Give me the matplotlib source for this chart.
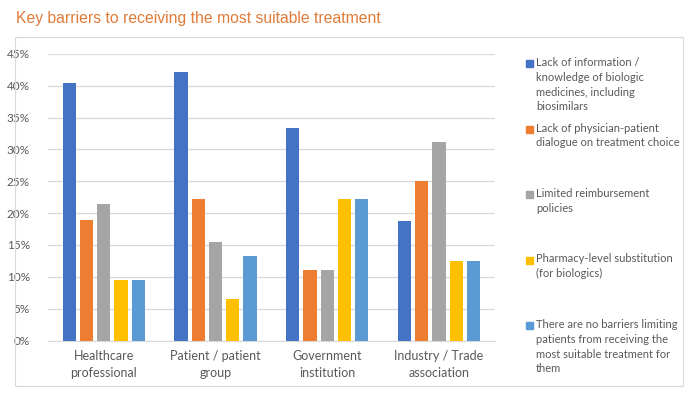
import numpy as np
import matplotlib.pyplot as plt
from matplotlib.patches import Rectangle

categories = ['Healthcare\nprofessional', 'Patient / patient\ngroup',
              'Government\ninstitution', 'Industry / Trade\nassociation']
series = ['Lack of information /\nknowledge of biologic\nmedicines, including\nbiosimilars',
          'Lack of physician-patient\ndialogue on treatment choice',
          'Limited reimbursement\npolicies',
          'Pharmacy-level substitution\n(for biologics)',
          'There are no barriers limiting\npatients from receiving the\nmost suitable treatment for\nthem']
lack_info = [40.5, 42.2, 33.3, 18.7]
dialogue = [19.0, 22.2, 11.1, 25.0]
reimburse = [21.4, 15.5, 11.1, 31.2]
pharmacy = [9.5, 6.6, 22.2, 12.5]
no_barriers = [9.5, 13.3, 22.2, 12.5]
values = [lack_info, dialogue, reimburse, pharmacy, no_barriers]
colors = ['#4472C4', '#ED7D31', '#A5A5A5', '#FFC000', '#5B9BD5']

font = ['Lato', 'DejaVu Sans']
plt.rcParams['font.family'] = font

fig = plt.figure(figsize=(6.95, 3.96), dpi=100)
ax = fig.add_axes([0.069, 0.140, 0.643, 0.724])

# chart border
fig.patches.append(Rectangle((15 / 695, 1 - 386 / 396), 668 / 695, 349 / 396,
                             transform=fig.transFigure, fill=False,
                             edgecolor='#D9D9D9', linewidth=0.8))

x = np.arange(len(categories))
step = 0.154
width = 0.119
for i, vals in enumerate(values):
    ax.bar(x + (i - 2) * step, np.array(vals) / 100, width, color=colors[i], zorder=3)

ax.set_xlim(-0.5, len(categories) - 0.5)
ax.set_ylim(0, 0.45)
ax.set_yticks(np.arange(0, 0.46, 0.05))
ax.set_yticklabels([f'{int(round(t * 100))}%' for t in np.arange(0, 0.46, 0.05)])
ax.set_xticks(x)
ax.set_xticklabels(categories, fontsize=9, color='#595959', linespacing=1.45)
ax.tick_params(axis='y', labelsize=8.5, colors='#595959', length=0, pad=13)
ax.tick_params(axis='x', length=0, pad=7)
ax.grid(axis='y', color='#D9D9D9', linewidth=0.9, zorder=0)
for s in ['top', 'right', 'left']:
    ax.spines[s].set_visible(False)
ax.spines['bottom'].set_color('#D9D9D9')

fig.text(16 / 695, 1 - 18 / 396, 'Key barriers to receiving the most suitable treatment',
         color='#E07B39', fontsize=11.3, va='center', family=['Liberation Sans', 'DejaVu Sans'])

# legend
for i, name in enumerate(series):
    ytop = 57 + i * 65.5
    fig.patches.append(Rectangle((526 / 695, 1 - (ytop + 10) / 396), 7 / 695, 7 / 396,
                                 transform=fig.transFigure, color=colors[i]))
    fig.text(536 / 695, 1 - ytop / 396, name, fontsize=8.0, color='#595959',
             va='top', ha='left', linespacing=1.42)

fig.savefig('out.png', dpi=100)
